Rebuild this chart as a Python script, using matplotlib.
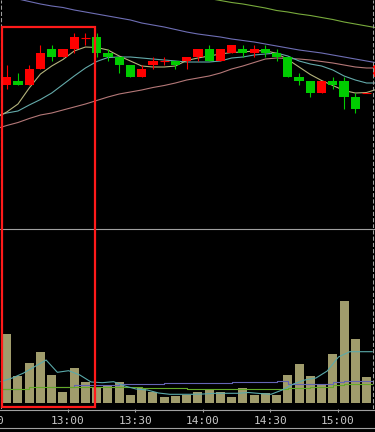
import numpy as np
import matplotlib.pyplot as plt
import matplotlib.transforms as mtrans
from matplotlib.patches import Rectangle
from matplotlib.lines import Line2D

# 5 minute candles (no price scale in the picture, so units are relative)
opens = [215, 219, 215, 231, 251, 243, 251, 262, 263, 247, 243, 235, 223, 235, 239, 239, 239,
         243, 251, 239, 247, 251, 247, 251, 247, 243, 223, 219, 207, 219, 219, 203, 207, 223]
highs = [235, 227, 235, 255, 255, 251, 267, 267, 267, 251, 243, 235, 235, 243, 243, 239, 243,
         251, 255, 251, 255, 255, 255, 255, 251, 243, 227, 219, 219, 223, 223, 207, 207, 235]
lows = [211, 215, 215, 231, 239, 243, 247, 255, 243, 239, 227, 223, 223, 231, 235, 231, 231,
        239, 239, 239, 247, 243, 243, 243, 239, 223, 215, 203, 207, 211, 191, 187, 207, 223]
closes = [223, 215, 231, 247, 243, 251, 263, 262, 247, 243, 235, 223, 231, 239, 239, 235, 243,
          251, 239, 251, 255, 247, 251, 247, 243, 223, 219, 207, 219, 215, 203, 191, 207, 235]

# moving averages, one value per bar starting one bar before the first candle
ma_short = [182, 188, 196, 212, 226, 234, 240.5, 249, 253, 252.5, 250, 244, 239, 234, 233, 233,
            234, 239.5, 242, 244, 246, 247.5, 248, 249, 249.5, 246.5, 240.5, 233, 225.5, 219.5,
            214.5, 209.5, 207, 207.5, 211]
ma_mid = [184, 187, 189, 195, 200.5, 207, 215.5, 224, 232, 238.5, 242.5, 243, 243, 242, 241, 240,
          239, 238, 238, 238, 239, 242, 243, 245, 246, 247, 244, 239, 236, 234, 230, 224, 220,
          217, 217]
ma_long = [171, 174.5, 177.5, 181.5, 185, 187, 190, 193, 196, 199.5, 203, 206, 208, 210, 212.5,
           214.5, 217, 220, 222, 224, 227, 231, 234, 237.5, 241, 242, 241.5, 241, 240, 238.5, 237,
           235, 233, 232, 232]
ma_purple = [305, 303, 301, 298.5, 296, 294, 292.5, 290, 288, 286, 284, 282, 280, 277, 275, 273,
             270.5, 268, 266, 264.5, 263, 261, 259.5, 258, 256, 254, 252, 250, 248.5, 247, 245,
             243, 241, 239, 237]
ma_green = [np.nan] * 17 + [305, 303, 301.5, 299.5, 297.5, 296, 294, 292, 289.5, 288, 286, 284.5,
                            282.5, 280.5, 278, 276, 274, 272]

volume = [69, 27, 40, 51, 28, 11, 35, 21, 16, 17, 21, 8, 15, 11, 6, 7, 8, 11, 14, 11, 6, 15, 8,
          10, 8, 28, 39, 27, 18, 49, 102, 64, 26]
vol_teal = [21.5, 25, 30, 36.5, 43, 30.7, 32.3, 28, 21, 20.3, 21.3, 17, 14, 13, 10, 8.7, 8.7, 8.7,
            9, 9.7, 9.7, 9.7, 10.5, 9.5, 8.7, 13, 19, 23, 25, 32, 46, 51.3, 51.3, 51.3]
vol_purple = [14, 14, np.nan, np.nan, np.nan, 16.3, 16.3, 18, 18, 18, 18, 18.7, 18.7, 18.7, 18.7,
              20.3, 20.3, 20.3, 20.3, 20.3, 20.3, 21, 20.7, 20.7, 20.7, 22, 18.7, 18.7, 18.7, 18.7,
              20.7, 22, 22, 22]
vol_green = [14, 14, 14, 15.7, 15.7, 15.7, 15.7, 15.7, 15.7, 15.7, 15.7, 15.7, 16.3, 14.7, 14.7,
             14.7, 14.7, 13.7, 13.7, 13.7, 13.7, 13.7, 13.7, 14, 14, 14.5, 15.3, 15.3, 16.3, 16.3,
             18, 18.7, 18.7, 18.7]

time_labels = ['12:30', '13:00', '13:30', '14:00', '14:30', '15:00']
time_pos = [-1.72, 5.44, 11.44, 17.44, 23.44, 29.44]

RED = '#ff0000'
GREEN = '#00cc00'
GRAY = '#a0a0a0'

fig = plt.figure(figsize=(3.75, 4.32), dpi=100, facecolor='black')
ax1 = fig.add_axes([0, 1 - 228 / 432, 1, 228 / 432])
ax2 = fig.add_axes([0, 23 / 432, 1, 181 / 432])
for ax in (ax1, ax2):
    ax.set_facecolor('black')
    for s in ax.spines.values():
        s.set_visible(False)
    ax.set_xlim(-0.6, 32.75)
    ax.set_yticks([])
ax1.set_xticks([])
ax1.set_ylim(72, 300)
ax2.set_ylim(-6, 175)

# price panel
xm = np.arange(-1, len(ma_short) - 1)
ax1.plot(xm, ma_purple, color='#6e6eb4', lw=0.8, zorder=2)
ax1.plot(xm, ma_green, color='#78aa3c', lw=0.8, zorder=2)
ax1.plot(xm, ma_long, color='#b47878', lw=0.8, zorder=2)
ax1.plot(xm, ma_mid, color='#64aaaa', lw=0.8, zorder=2)
ax1.plot(xm, ma_short, color='#b4b47c', lw=0.8, zorder=2)

o = np.array(opens, float)
h = np.array(highs, float)
l = np.array(lows, float)
c = np.array(closes, float)
idx = np.arange(len(o))
cols = np.where(c >= o, RED, GREEN)
ax1.vlines(idx, l, h, colors=cols, lw=0.8, zorder=3)
ax1.bar(idx, np.abs(c - o), 0.82, bottom=np.minimum(o, c), color=cols, lw=0, zorder=4)
doji = c == o
ax1.hlines(c[doji], idx[doji] - 0.41, idx[doji] + 0.41, colors=RED, lw=0.8, zorder=4)

# volume panel
ax2.bar(np.arange(len(volume)), volume, 0.8, color='#a09c6c', lw=0, zorder=2)
xv = np.arange(-1, len(vol_teal) - 1) + 0.5
ax2.plot(xv, vol_purple, color='#6464b4', lw=0.8, drawstyle='steps-mid', zorder=3)
ax2.plot(xv, vol_green, color='#64aa28', lw=0.8, drawstyle='steps-mid', zorder=3)
ax2.plot(xv, vol_teal, color='#5aaaaa', lw=0.8, zorder=3)

for ax in (ax1, ax2):
    for xd in (-0.51, 32.58):
        ax.axvline(xd, color=GRAY, lw=0.75, dashes=(4, 2), zorder=5)

ax2.set_xticks([p for p in time_pos if p > -0.6])
ax2.tick_params(axis='x', direction='out', length=2.5, width=0.8, color=GRAY, labelbottom=False)
tr = mtrans.blended_transform_factory(ax2.transData, fig.transFigure)
for p, lab in zip(time_pos, time_labels):
    ax2.text(p, 1 - 420.5 / 432, lab, transform=tr, ha='center', va='center', color='#c8c8c8',
             fontsize=8, family='DejaVu Sans Mono', clip_on=False)

for yy in (228.5, 409.5, 427.5):
    fig.add_artist(Line2D([0, 1], [1 - yy / 432] * 2, transform=fig.transFigure, color=GRAY, lw=0.8))

box_tr = mtrans.blended_transform_factory(ax1.transData, fig.transFigure)
fig.add_artist(Rectangle((-0.42, 1 - 407 / 432), 8.26, 380 / 432, transform=box_tr,
                         fill=False, ec='#ff1a1a', lw=1.6, zorder=10))

fig.savefig('out.png', dpi=100, facecolor='black')
